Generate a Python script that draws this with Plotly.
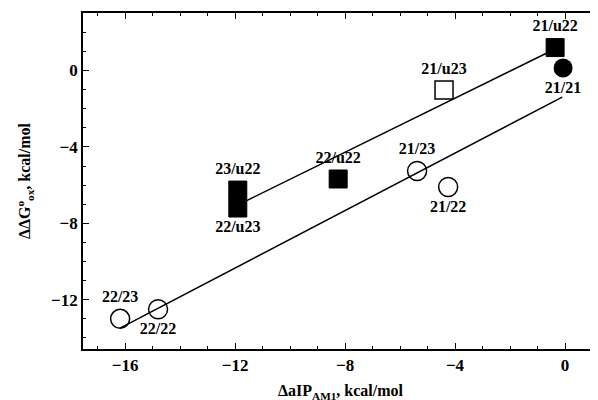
import plotly.graph_objects as go

# Filled squares
fsq_x = [-0.36, -8.25, -11.9, -11.9]
fsq_y = [1.2, -5.68, -6.26, -7.2]
fsq_lbl = ["21/u22", "22/u22", "23/u22", "22/u23"]
fsq_pos = ["top center", "top center", "top center", "bottom center"]

# Open square
osq_x = [-4.4]
osq_y = [-1.02]
osq_lbl = ["21/u23"]

# Filled circle
fci_x = [-0.07]
fci_y = [0.13]
fci_lbl = ["21/21"]

# Open circles
oci_x = [-5.38, -4.25, -16.18, -14.8]
oci_y = [-5.26, -6.1, -13.0, -12.5]
oci_lbl = ["21/23", "21/22", "22/23", "22/22"]
oci_pos = ["top center", "bottom center", "top center", "bottom center"]

# Fit lines
up_x = [-11.9, -0.4]
up_y = [-7.04, 1.1]
lo_x = [-16.2, -0.1]
lo_y = [-13.5, -1.39]

xticks = [-16, -12, -8, -4, 0]
yticks = [0, -4, -8, -12]

FONT = "Liberation Serif"
lblfont = dict(family=FONT, size=16, color="black", weight="bold")

fig = go.Figure()
fig.add_trace(go.Scatter(x=up_x, y=up_y, mode="lines", line=dict(color="black", width=1.5)))
fig.add_trace(go.Scatter(x=lo_x, y=lo_y, mode="lines", line=dict(color="black", width=1.5)))

fig.add_trace(go.Scatter(x=fsq_x, y=fsq_y, mode="markers+text", text=fsq_lbl, textposition=fsq_pos,
                         textfont=lblfont,
                         marker=dict(symbol="square", size=18, color="black", line=dict(color="black", width=1))))
fig.add_trace(go.Scatter(x=osq_x, y=osq_y, mode="markers+text", text=osq_lbl, textposition="top center",
                         textfont=lblfont,
                         marker=dict(symbol="square-open", size=18, color="black", line=dict(color="black", width=1.5))))
fig.add_trace(go.Scatter(x=fci_x, y=fci_y, mode="markers+text", text=fci_lbl, textposition="bottom center",
                         textfont=lblfont,
                         marker=dict(symbol="circle", size=19, color="black")))
fig.add_trace(go.Scatter(x=oci_x, y=oci_y, mode="markers+text", text=oci_lbl, textposition=oci_pos,
                         textfont=lblfont,
                         marker=dict(symbol="circle-open", size=19, color="black", line=dict(color="black", width=1.5))))

axfont = dict(family=FONT, size=17, color="black", weight="bold")
titlefont = dict(family=FONT, size=16, color="black", weight="bold")
# page body adds an 8px offset; margins compensate so the frame lands at x 83..598, y 13..349
fig.update_layout(
    width=598, height=400,
    margin=dict(l=75, r=8, t=5, b=59),
    paper_bgcolor="white", plot_bgcolor="white",
    showlegend=False,
    font=dict(family=FONT, color="black"),
    xaxis=dict(range=[-17.53, 1.2], tickvals=xticks, ticks="inside", ticklen=6, tickwidth=1.2,
               tickcolor="black", showline=True, linecolor="black", linewidth=1.8, mirror="ticks",
               showgrid=False, zeroline=False, tickfont=axfont, automargin=False,
               minor=dict(dtick=1, ticks="inside", ticklen=3, tickcolor="black", showgrid=False),
               title=dict(text="ΔaIP<sub>AM1</sub>, kcal/mol", font=titlefont, standoff=11)),
    yaxis=dict(range=[-14.58, 3.01], tickvals=yticks, ticks="inside", ticklen=6, tickwidth=1.2,
               tickcolor="black", showline=True, linecolor="black", linewidth=1.8, mirror=False,
               showgrid=False, zeroline=False, tickfont=axfont, automargin=False,
               minor=dict(dtick=1, ticks="inside", ticklen=3, tickcolor="black", showgrid=False),
               title=dict(text="ΔΔG<sup>o</sup><sub>ox</sub>, kcal/mol", font=titlefont, standoff=16)),
)

fig.write_html("out.html")
